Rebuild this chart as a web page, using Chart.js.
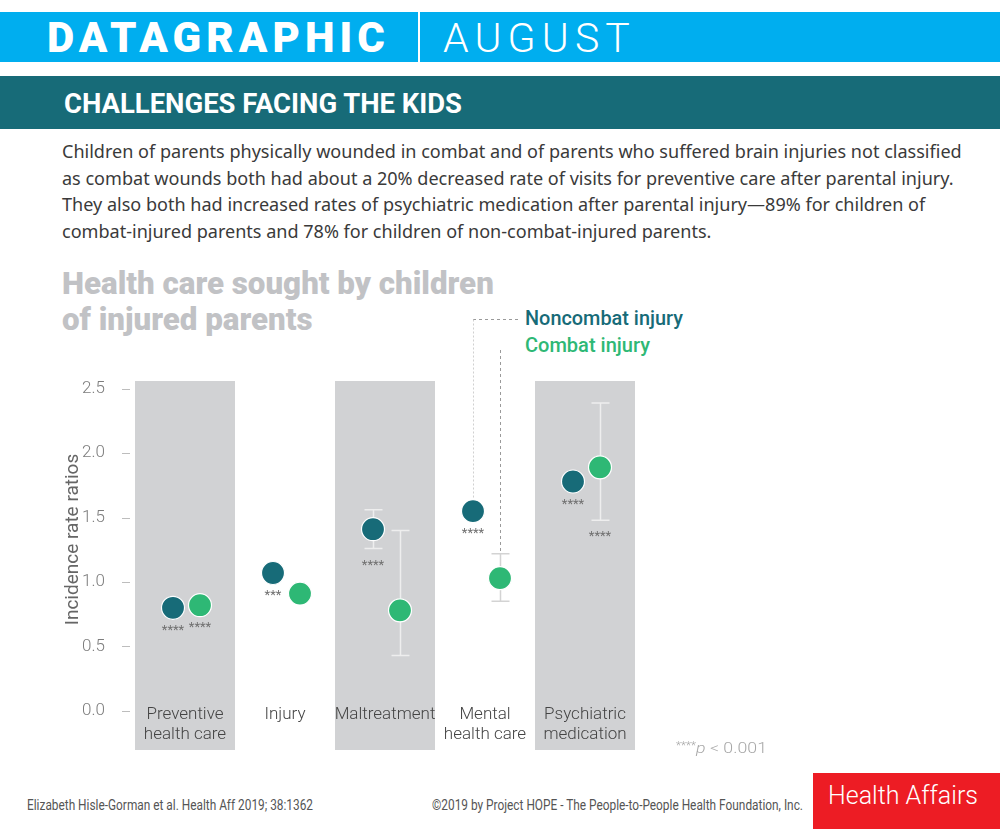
<!DOCTYPE html>
<html><head><meta charset="utf-8">
<script src="https://cdn.jsdelivr.net/npm/chart.js@4.4.1/dist/chart.umd.min.js"></script>
<style>
html,body{margin:0;padding:0;background:#fff;}
body{width:1000px;height:829px;position:relative;overflow:hidden;font-family:Roboto,"Open Sans",sans-serif;}
.abs{position:absolute;white-space:nowrap;}
#bar1{left:0;top:12px;width:1000px;height:50px;background:#00aeef;}
#divider{left:418px;top:12px;width:2px;height:50px;background:#fff;}
#dg{left:47px;top:12px;height:50px;line-height:52px;color:#fff;font-weight:900;font-size:42px;}
#aug{left:443px;top:12px;height:50px;line-height:52px;color:#fff;font-weight:300;font-size:41px;}
#bar2{left:0;top:76px;width:1000px;height:53px;background:#176b78;}
#sub{left:64px;top:76px;height:53px;line-height:56px;color:#fff;font-weight:700;font-size:28px;}
#para{left:62px;top:138px;line-height:26.7px;color:#3a3a3a;font-size:18.5px;font-family:"Noto Sans",Lato,sans-serif;font-weight:400;}
#ctitle{left:62px;top:266px;line-height:36px;color:#c1c2c5;font-size:31px;font-weight:900;}
#leg1{left:525px;top:307px;line-height:24px;color:#176b78;font-size:19.5px;font-weight:500;}
#leg2{left:525px;top:334px;line-height:24px;color:#2eb875;font-size:19.5px;font-weight:500;}
#pnote{left:676px;top:736px;line-height:20px;color:#a8a8a8;font-size:15px;font-weight:300;}
#pnote sup{font-size:10px;vertical-align:4px;}
#foot1{left:27px;top:796px;line-height:18px;color:#555;font-size:14px;}
#foot2{left:432px;top:796px;line-height:18px;color:#555;font-size:14px;}
#red{left:813px;top:773px;width:187px;height:56px;background:#ed1c24;}
#ha{left:828px;top:780px;line-height:30px;color:#fff;font-size:26px;font-weight:300;}
#cw{position:absolute;left:0;top:300px;width:1000px;height:470px;}
</style>
</head><body>
<div class="abs" id="bar1"></div>
<div class="abs" id="divider"></div>
<div class="abs" id="dg">DATAGRAPHIC</div>
<div class="abs" id="aug">AUGUST</div>
<div class="abs" id="bar2"></div>
<div class="abs" id="sub">CHALLENGES FACING THE KIDS</div>
<div class="abs" id="para">Children of parents physically wounded in combat and of parents who suffered brain injuries not classified<br>as combat wounds both had about a 20% decreased rate of visits for preventive care after parental injury.<br>They also both had increased rates of psychiatric medication after parental injury—89% for children of<br>combat-injured parents and 78% for children of non-combat-injured parents.</div>
<div class="abs" id="ctitle">Health care sought by children<br>of injured parents</div>
<div class="abs" id="leg1">Noncombat injury</div>
<div class="abs" id="leg2">Combat injury</div>
<div id="cw"><canvas id="c"></canvas></div>
<div class="abs" id="pnote"><sup>****</sup><i>p</i> &lt; 0.001</div>
<div class="abs" id="foot1">Elizabeth Hisle-Gorman et al. Health Aff 2019; 38:1362</div>
<div class="abs" id="foot2">©2019 by Project HOPE - The People-to-People Health Foundation, Inc.</div>
<div class="abs" id="red"></div>
<div class="abs" id="ha">Health Affairs</div>
<script>
// ---- data ----
const categories = [["Preventive","health care"],["Injury"],["Maltreatment"],["Mental","health care"],["Psychiatric","medication"]];
const shadedBands = [true, false, true, false, true];
const noncombatIRR = [0.80, 1.07, 1.41, 1.55, 1.78];
const combatIRR    = [0.82, 0.91, 0.78, 1.03, 1.89];
const noncombatLow  = [null, null, 1.26, null, null];
const noncombatHigh = [null, null, 1.56, null, null];
const combatLow     = [null, null, 0.43, 0.85, 1.48];
const combatHigh    = [null, null, 1.40, 1.22, 2.39];
const noncombatSig = ["****", "***", "****", "****", "****"];
const combatSig    = ["****", "", "", "", "****"];
const yTicks = [0, 0.5, 1.0, 1.5, 2.0, 2.5];
const legendCategory = 3; // Mental health care carries the legend leaders

// ---- text fitting ----
function fitFont(id, w){const el=document.getElementById(id);const fs=parseFloat(getComputedStyle(el).fontSize);el.style.fontSize=(fs*w/el.getBoundingClientRect().width)+'px';}
function fitScale(id, w){const el=document.getElementById(id);const nw=el.getBoundingClientRect().width;el.style.transformOrigin='0 50%';el.style.transform='scaleX('+(w/nw)+')';}
function fitSpacing(id, w, n){const el=document.getElementById(id);const nw=el.getBoundingClientRect().width;el.style.letterSpacing=((w-nw)/n)+'px';}
fitSpacing('dg', 343, 11);
fitSpacing('aug', 193, 6);
fitScale('sub', 398);
fitFont('para', 900);
fitFont('ctitle', 432);
fitScale('leg1', 158);
fitScale('leg2', 125);
fitScale('pnote', 91);
fitScale('foot1', 286);
fitScale('foot2', 371);
fitScale('ha', 150);

const C_NON = '#176b78', C_COM = '#2eb875', C_BAND = '#d1d2d4';
const OFF_NON = -0.12, OFF_COM = 0.15;

const overlay = {
  id: 'overlay',
  beforeDraw(chart){
    const {ctx, chartArea, scales:{x}} = chart;
    ctx.save();
    ctx.fillStyle = C_BAND;
    shadedBands.forEach((s,i)=>{
      if(!s) return;
      const x0 = x.getPixelForValue(i-0.5), x1 = x.getPixelForValue(i+0.5);
      ctx.fillRect(x0, chartArea.top, x1-x0, chartArea.bottom + 52 - chartArea.top);
    });
    ctx.restore();
  },
  beforeDatasetsDraw(chart){
    const {ctx, chartArea, scales:{x,y}} = chart;
    ctx.save();
    // y tick dashes
    ctx.strokeStyle = '#bdbdbd'; ctx.lineWidth = 1;
    yTicks.forEach(v=>{
      const py = Math.round(y.getPixelForValue(v))+0.5;
      ctx.beginPath(); ctx.moveTo(chartArea.left-13, py); ctx.lineTo(chartArea.left-5, py); ctx.stroke();
    });
    // legend leaders
    const nx = x.getPixelForValue(legendCategory+OFF_NON), cx = x.getPixelForValue(legendCategory+OFF_COM);
    ctx.lineWidth = 1;
    ctx.strokeStyle = '#9a9a9a'; ctx.setLineDash([3,3]);
    ctx.beginPath(); ctx.moveTo(nx, 19.5); ctx.lineTo(518, 19.5); ctx.stroke();
    ctx.strokeStyle = '#d0d0d0'; ctx.setLineDash([2,2]);
    ctx.beginPath(); ctx.moveTo(nx+0.5, 19.5); ctx.lineTo(nx+0.5, y.getPixelForValue(noncombatIRR[legendCategory])-12); ctx.stroke();
    ctx.strokeStyle = '#9a9a9a'; ctx.setLineDash([3,3]);
    const cTop = combatHigh[legendCategory] != null ? combatHigh[legendCategory] : combatIRR[legendCategory];
    ctx.beginPath(); ctx.moveTo(cx+0.5, 50); ctx.lineTo(cx+0.5, y.getPixelForValue(cTop)); ctx.stroke();
    ctx.setLineDash([]);
    // error bars
    const drawErr = (lo, hi, off) => {
      lo.forEach((l,i)=>{
        if(l==null) return;
        const px = Math.round(x.getPixelForValue(i+off))+0.5;
        const pl = y.getPixelForValue(l), ph = y.getPixelForValue(hi[i]);
        ctx.strokeStyle = shadedBands[i] ? '#eeeeee' : '#d3d3d3';
        ctx.lineWidth = 1.5;
        ctx.beginPath();
        ctx.moveTo(px, pl); ctx.lineTo(px, ph);
        ctx.moveTo(px-9, ph); ctx.lineTo(px+9, ph);
        ctx.moveTo(px-9, pl); ctx.lineTo(px+9, pl);
        ctx.stroke();
      });
    };
    drawErr(noncombatLow, noncombatHigh, OFF_NON);
    drawErr(combatLow, combatHigh, OFF_COM);
    // significance stars
    ctx.fillStyle = '#6f6f6f';
    ctx.font = '13px Roboto';
    ctx.textAlign = 'center'; ctx.textBaseline = 'middle';
    const drawSig = (sig, vals, lo, off) => {
      sig.forEach((s,i)=>{
        if(!s) return;
        const px = x.getPixelForValue(i+off);
        let py = y.getPixelForValue(vals[i]) + 21;
        if(lo[i]!=null) py = Math.max(py, y.getPixelForValue(lo[i]) + 15);
        ctx.fillText(s, px, py+2);
      });
    };
    drawSig(noncombatSig, noncombatIRR, noncombatLow, OFF_NON);
    drawSig(combatSig, combatIRR, combatLow, OFF_COM);
    ctx.restore();
  }
};

new Chart(document.getElementById('c'), {
  type: 'scatter',
  data: {
    datasets: [
      {label:'Noncombat injury', data: noncombatIRR.map((v,i)=>({x:i+OFF_NON, y:v})),
       backgroundColor:C_NON, borderColor:'#ffffff', borderWidth:1.2, pointRadius:11.5, pointHoverRadius:11.5},
      {label:'Combat injury', data: combatIRR.map((v,i)=>({x:i+OFF_COM, y:v})),
       backgroundColor:C_COM, borderColor:'#ffffff', borderWidth:1.2, pointRadius:11.5, pointHoverRadius:11.5}
    ]
  },
  options: {
    responsive:true, maintainAspectRatio:false, animation:false,
    layout:{padding:{top:81, left:50, right:365, bottom:10}},
    plugins:{legend:{display:false}, tooltip:{enabled:false}},
    events:[],
    scales:{
      x:{type:'linear', min:-0.5, max:4.5,
         afterBuildTicks: s => { s.ticks = categories.map((c,i)=>({value:i})); },
         afterFit: s => { s.height = 62; },
         grid:{display:false}, border:{display:false},
         ticks:{padding:-1, autoSkip:false, maxRotation:0, color:'#444',
                font:{family:'Roboto', size:17, weight:'300', lineHeight:1.15},
                callback:(v)=>categories[Math.round(v)]}},
      y:{min:0.1, max:2.56,
         afterBuildTicks: s => { s.ticks = yTicks.map(v=>({value:v})); },
         afterFit: s => { s.width = 85; },
         grid:{display:false}, border:{display:false},
         ticks:{padding:22, color:'#7d7d7d', font:{family:'Roboto', size:17, weight:'300'},
                callback:(v)=>Number(v).toFixed(1)},
         title:{display:true, text:'Incidence rate ratios', color:'#666', padding:{top:12},
                font:{family:'Roboto', size:19, weight:'400'}}}
    }
  },
  plugins:[overlay]
});
</script>
</body></html>
